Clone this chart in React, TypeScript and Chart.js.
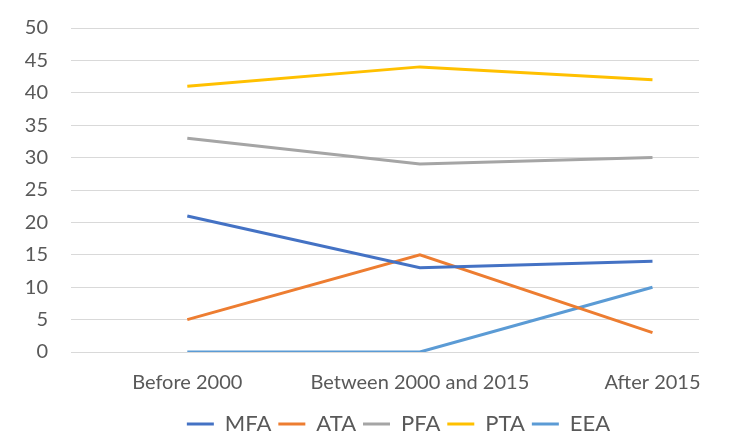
import React, { useEffect, useRef } from "react";
import { Chart, registerables } from "chart.js";

Chart.register(...registerables);

const categories = ["Before 2000", "Between 2000 and 2015", "After 2015"];
const mfa = [21, 13, 14];
const ata = [5, 15, 3];
const pfa = [33, 29, 30];
const pta = [41, 44, 42];
const eea = [0, 0, 10];
const yTicks = [0, 5, 10, 15, 20, 25, 30, 35, 40, 45, 50];

const seriesNames = ["MFA", "ATA", "PFA", "PTA", "EEA"];
const seriesColors = ["#4472C4", "#ED7D31", "#A5A5A5", "#FFC000", "#5B9BD5"];
const seriesValues = [mfa, ata, pfa, pta, eea];

const FONT = "Lato, 'Open Sans', sans-serif";
const LEGEND_SHIFT_X = 49;
const LEGEND_SHIFT_Y = 8;

const legendShift = {
  id: "legendShift",
  afterLayout(chart: any) {
    const lg = chart.legend;
    if (!lg) return;
    lg.left += LEGEND_SHIFT_X;
    lg.right += LEGEND_SHIFT_X;
    lg.top += LEGEND_SHIFT_Y;
    lg.bottom += LEGEND_SHIFT_Y;
  },
};

export default function App() {
  const ref = useRef<HTMLCanvasElement | null>(null);
  useEffect(() => {
    if (!ref.current) return;
    const chart = new Chart(ref.current, {
      type: "line",
      data: {
        datasets: seriesNames.map((name, i) => ({
          label: name,
          data: seriesValues[i].map((v, j) => ({ x: j, y: v })),
          borderColor: seriesColors[i],
          backgroundColor: seriesColors[i],
          borderWidth: 3,
          pointRadius: 0,
          tension: 0,
          fill: false,
        })),
      },
      plugins: [legendShift],
      options: {
        animation: false,
        responsive: false,
        maintainAspectRatio: false,
        layout: { padding: { top: 28, left: 0, right: 46, bottom: 0 } },
        plugins: {
          tooltip: { enabled: false },
          legend: {
            position: "bottom",
            labels: {
              usePointStyle: true,
              pointStyle: "line",
              pointStyleWidth: 27,
              boxWidth: 27,
              padding: 7,
              color: "#595959",
              font: { family: FONT, size: 22 },
            },
          },
        },
        scales: {
          x: {
            type: "linear",
            min: -0.5,
            max: 2.2,
            grid: { display: false },
            border: { display: false },
            afterBuildTicks: (s: any) => {
              s.ticks = categories.map((_, i) => ({ value: i }));
            },
            afterFit: (s: any) => {
              s.height = 46;
            },
            ticks: {
              autoSkip: false,
              maxRotation: 0,
              padding: 11,
              color: "#595959",
              font: { family: FONT, size: 20 },
              callback: (v: any) => categories[v as number] ?? "",
            },
          },
          y: {
            min: 0,
            max: 50,
            afterBuildTicks: (s: any) => {
              s.ticks = yTicks.map((v) => ({ value: v }));
            },
            afterFit: (s: any) => {
              s.width = 71;
              s.paddingTop = 12;
              s.paddingBottom = 0;
            },
            grid: { color: "#D9D9D9", lineWidth: 1, drawTicks: false },
            border: { display: false },
            ticks: {
              padding: 23,
              color: "#595959",
              font: { family: FONT, size: 20 },
            },
          },
        },
      },
    });
    return () => chart.destroy();
  }, []);
  return (
    <div style={{ position: "fixed", left: 0, top: 0, width: 745, height: 437, background: "#fff" }}>
      <canvas ref={ref} width={745} height={437} style={{ width: 745, height: 437 }} />
    </div>
  );
}
